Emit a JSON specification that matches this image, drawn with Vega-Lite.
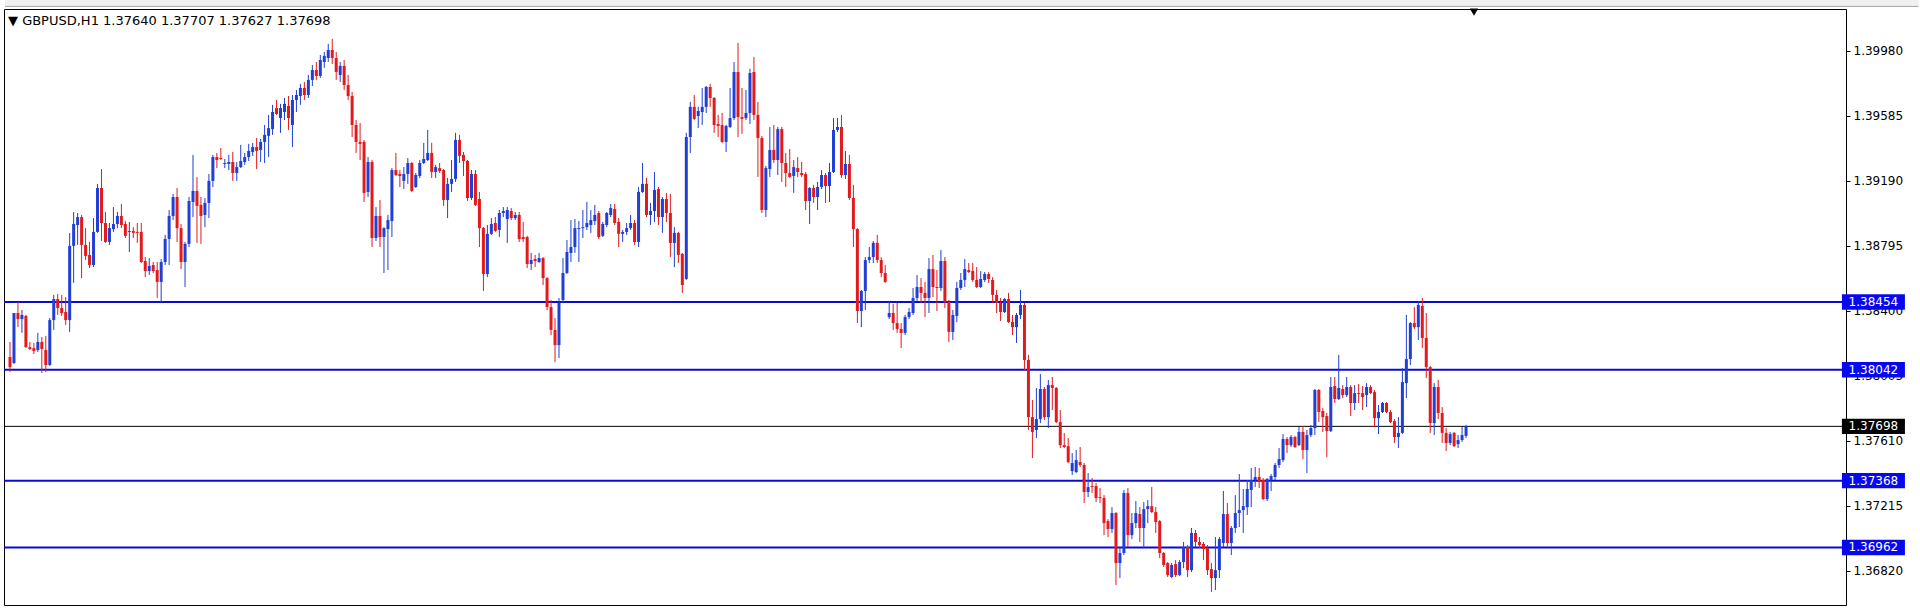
{
"$schema": "https://vega.github.io/schema/vega-lite/v6.json",
"width": 1842, "height": 596,
"autosize": {"type": "none"},
"padding": {"left": 4, "top": 9, "right": 74, "bottom": 3},
"background": "white",
"title": {"text": "▼ GBPUSD,H1  1.37640 1.37707 1.37627 1.37698", "anchor": "start", "frame": "group", "orient": "top", "offset": -38, "dx": 4, "baseline": "alphabetic", "font": "DejaVu Sans", "fontSize": 13, "fontWeight": "normal", "color": "#000000"},
"config": {"view": {"stroke": "#000000", "strokeWidth": 1}, "font": "DejaVu Sans"},
"datasets": {
"levels": [{"p": 1.38454}, {"p": 1.38042}, {"p": 1.37368}, {"p": 1.36962}],
"last": [{"p": 1.37698}],
"candles": [
{"i":0,"o":1.38119,"h":1.38211,"l":1.38028,"c":1.38058},
{"i":1,"o":1.38083,"h":1.38387,"l":1.38077,"c":1.38387},
{"i":2,"o":1.38387,"h":1.38454,"l":1.38301,"c":1.38350},
{"i":3,"o":1.38350,"h":1.38405,"l":1.38266,"c":1.38375},
{"i":4,"o":1.38369,"h":1.38375,"l":1.38174,"c":1.38180},
{"i":5,"o":1.38180,"h":1.38211,"l":1.38162,"c":1.38168},
{"i":6,"o":1.38174,"h":1.38205,"l":1.38138,"c":1.38156},
{"i":7,"o":1.38162,"h":1.38266,"l":1.38150,"c":1.38211},
{"i":8,"o":1.38211,"h":1.38241,"l":1.38022,"c":1.38168},
{"i":9,"o":1.38162,"h":1.38248,"l":1.38028,"c":1.38071},
{"i":10,"o":1.38071,"h":1.38356,"l":1.38065,"c":1.38344},
{"i":11,"o":1.38344,"h":1.38497,"l":1.38284,"c":1.38472},
{"i":12,"o":1.38472,"h":1.38503,"l":1.38375,"c":1.38417},
{"i":13,"o":1.38417,"h":1.38497,"l":1.38369,"c":1.38387},
{"i":14,"o":1.38393,"h":1.38484,"l":1.38314,"c":1.38344},
{"i":15,"o":1.38344,"h":1.38874,"l":1.38272,"c":1.38795},
{"i":16,"o":1.38795,"h":1.39001,"l":1.38570,"c":1.38928},
{"i":17,"o":1.38922,"h":1.38995,"l":1.38801,"c":1.38970},
{"i":18,"o":1.38970,"h":1.38983,"l":1.38599,"c":1.38801},
{"i":19,"o":1.38801,"h":1.38903,"l":1.38709,"c":1.38734},
{"i":20,"o":1.38740,"h":1.38819,"l":1.38660,"c":1.38679},
{"i":21,"o":1.38679,"h":1.38964,"l":1.38666,"c":1.38880},
{"i":22,"o":1.38880,"h":1.39172,"l":1.38874,"c":1.39147},
{"i":23,"o":1.39147,"h":1.39262,"l":1.38825,"c":1.38934},
{"i":24,"o":1.38934,"h":1.39001,"l":1.38813,"c":1.38819},
{"i":25,"o":1.38819,"h":1.38934,"l":1.38801,"c":1.38903},
{"i":26,"o":1.38897,"h":1.39031,"l":1.38880,"c":1.38928},
{"i":27,"o":1.38928,"h":1.39001,"l":1.38903,"c":1.38977},
{"i":28,"o":1.38977,"h":1.39050,"l":1.38903,"c":1.38922},
{"i":29,"o":1.38928,"h":1.38946,"l":1.38843,"c":1.38856},
{"i":30,"o":1.38880,"h":1.38940,"l":1.38758,"c":1.38886},
{"i":31,"o":1.38886,"h":1.38909,"l":1.38843,"c":1.38874},
{"i":32,"o":1.38880,"h":1.38934,"l":1.38813,"c":1.38874},
{"i":33,"o":1.38880,"h":1.38934,"l":1.38691,"c":1.38697},
{"i":34,"o":1.38703,"h":1.38727,"l":1.38605,"c":1.38642},
{"i":35,"o":1.38642,"h":1.38721,"l":1.38618,"c":1.38673},
{"i":36,"o":1.38679,"h":1.38697,"l":1.38630,"c":1.38642},
{"i":37,"o":1.38648,"h":1.38697,"l":1.38478,"c":1.38576},
{"i":38,"o":1.38576,"h":1.38715,"l":1.38448,"c":1.38697},
{"i":39,"o":1.38697,"h":1.38862,"l":1.38679,"c":1.38837},
{"i":40,"o":1.38837,"h":1.39013,"l":1.38679,"c":1.38977},
{"i":41,"o":1.38977,"h":1.39111,"l":1.38952,"c":1.39092},
{"i":42,"o":1.39092,"h":1.39147,"l":1.38819,"c":1.38903},
{"i":43,"o":1.38903,"h":1.38928,"l":1.38654,"c":1.38697},
{"i":44,"o":1.38697,"h":1.38819,"l":1.38545,"c":1.38807},
{"i":45,"o":1.38807,"h":1.39092,"l":1.38788,"c":1.39068},
{"i":46,"o":1.39062,"h":1.39348,"l":1.38970,"c":1.39129},
{"i":47,"o":1.39129,"h":1.39213,"l":1.38813,"c":1.39038},
{"i":48,"o":1.39044,"h":1.39092,"l":1.38807,"c":1.38977},
{"i":49,"o":1.38983,"h":1.39086,"l":1.38909,"c":1.39056},
{"i":50,"o":1.39056,"h":1.39232,"l":1.38964,"c":1.39190},
{"i":51,"o":1.39190,"h":1.39348,"l":1.39153,"c":1.39335},
{"i":52,"o":1.39335,"h":1.39360,"l":1.39268,"c":1.39317},
{"i":53,"o":1.39329,"h":1.39390,"l":1.39317,"c":1.39323},
{"i":54,"o":1.39293,"h":1.39323,"l":1.39268,"c":1.39299},
{"i":55,"o":1.39293,"h":1.39348,"l":1.39256,"c":1.39305},
{"i":56,"o":1.39305,"h":1.39366,"l":1.39190,"c":1.39238},
{"i":57,"o":1.39238,"h":1.39305,"l":1.39190,"c":1.39274},
{"i":58,"o":1.39274,"h":1.39409,"l":1.39268,"c":1.39311},
{"i":59,"o":1.39305,"h":1.39360,"l":1.39287,"c":1.39335},
{"i":60,"o":1.39335,"h":1.39415,"l":1.39311,"c":1.39372},
{"i":61,"o":1.39366,"h":1.39421,"l":1.39342,"c":1.39396},
{"i":62,"o":1.39396,"h":1.39451,"l":1.39262,"c":1.39372},
{"i":63,"o":1.39378,"h":1.39445,"l":1.39305,"c":1.39427},
{"i":64,"o":1.39427,"h":1.39530,"l":1.39299,"c":1.39470},
{"i":65,"o":1.39464,"h":1.39591,"l":1.39335,"c":1.39511},
{"i":66,"o":1.39505,"h":1.39652,"l":1.39470,"c":1.39609},
{"i":67,"o":1.39633,"h":1.39682,"l":1.39591,"c":1.39597},
{"i":68,"o":1.39572,"h":1.39658,"l":1.39482,"c":1.39633},
{"i":69,"o":1.39609,"h":1.39694,"l":1.39560,"c":1.39658},
{"i":70,"o":1.39646,"h":1.39706,"l":1.39500,"c":1.39572},
{"i":71,"o":1.39530,"h":1.39712,"l":1.39396,"c":1.39682},
{"i":72,"o":1.39682,"h":1.39743,"l":1.39609,"c":1.39712},
{"i":73,"o":1.39706,"h":1.39780,"l":1.39652,"c":1.39755},
{"i":74,"o":1.39755,"h":1.39792,"l":1.39682,"c":1.39712},
{"i":75,"o":1.39712,"h":1.39834,"l":1.39694,"c":1.39804},
{"i":76,"o":1.39804,"h":1.39895,"l":1.39767,"c":1.39864},
{"i":77,"o":1.39864,"h":1.39913,"l":1.39804,"c":1.39828},
{"i":78,"o":1.39828,"h":1.39956,"l":1.39816,"c":1.39925},
{"i":79,"o":1.39913,"h":1.39974,"l":1.39877,"c":1.39950},
{"i":80,"o":1.39937,"h":1.40023,"l":1.39913,"c":1.39986},
{"i":81,"o":1.39986,"h":1.40053,"l":1.39901,"c":1.39937},
{"i":82,"o":1.39937,"h":1.39974,"l":1.39804,"c":1.39852},
{"i":83,"o":1.39834,"h":1.39913,"l":1.39792,"c":1.39889},
{"i":84,"o":1.39889,"h":1.39925,"l":1.39743,"c":1.39773},
{"i":85,"o":1.39773,"h":1.39834,"l":1.39682,"c":1.39706},
{"i":86,"o":1.39706,"h":1.39731,"l":1.39457,"c":1.39530},
{"i":87,"o":1.39530,"h":1.39560,"l":1.39360,"c":1.39427},
{"i":88,"o":1.39427,"h":1.39542,"l":1.39317,"c":1.39415},
{"i":89,"o":1.39427,"h":1.39439,"l":1.39062,"c":1.39116},
{"i":90,"o":1.39123,"h":1.39335,"l":1.39092,"c":1.39305},
{"i":91,"o":1.39305,"h":1.39317,"l":1.38788,"c":1.38843},
{"i":92,"o":1.38843,"h":1.39031,"l":1.38825,"c":1.38977},
{"i":93,"o":1.38977,"h":1.39074,"l":1.38788,"c":1.38849},
{"i":94,"o":1.38849,"h":1.38909,"l":1.38630,"c":1.38903},
{"i":95,"o":1.38897,"h":1.38983,"l":1.38648,"c":1.38952},
{"i":96,"o":1.38946,"h":1.39268,"l":1.38849,"c":1.39256},
{"i":97,"o":1.39256,"h":1.39360,"l":1.39220,"c":1.39226},
{"i":98,"o":1.39232,"h":1.39256,"l":1.39153,"c":1.39220},
{"i":99,"o":1.39190,"h":1.39274,"l":1.39141,"c":1.39232},
{"i":100,"o":1.39232,"h":1.39329,"l":1.39172,"c":1.39299},
{"i":101,"o":1.39299,"h":1.39305,"l":1.39123,"c":1.39129},
{"i":102,"o":1.39153,"h":1.39238,"l":1.39147,"c":1.39226},
{"i":103,"o":1.39220,"h":1.39317,"l":1.39208,"c":1.39299},
{"i":104,"o":1.39299,"h":1.39421,"l":1.39293,"c":1.39323},
{"i":105,"o":1.39317,"h":1.39500,"l":1.39311,"c":1.39360},
{"i":106,"o":1.39360,"h":1.39421,"l":1.39208,"c":1.39244},
{"i":107,"o":1.39244,"h":1.39287,"l":1.39208,"c":1.39274},
{"i":108,"o":1.39268,"h":1.39299,"l":1.39238,"c":1.39250},
{"i":109,"o":1.39256,"h":1.39262,"l":1.39038,"c":1.39074},
{"i":110,"o":1.39074,"h":1.39208,"l":1.38964,"c":1.39172},
{"i":111,"o":1.39172,"h":1.39317,"l":1.39123,"c":1.39202},
{"i":112,"o":1.39202,"h":1.39482,"l":1.39184,"c":1.39439},
{"i":113,"o":1.39439,"h":1.39470,"l":1.39299,"c":1.39342},
{"i":114,"o":1.39348,"h":1.39366,"l":1.39220,"c":1.39311},
{"i":115,"o":1.39311,"h":1.39317,"l":1.39068,"c":1.39086},
{"i":116,"o":1.39086,"h":1.39256,"l":1.39074,"c":1.39232},
{"i":117,"o":1.39232,"h":1.39256,"l":1.39038,"c":1.39044},
{"i":118,"o":1.39080,"h":1.39123,"l":1.38788,"c":1.38903},
{"i":119,"o":1.38903,"h":1.38909,"l":1.38521,"c":1.38624},
{"i":120,"o":1.38624,"h":1.38922,"l":1.38605,"c":1.38868},
{"i":121,"o":1.38868,"h":1.38964,"l":1.38862,"c":1.38928},
{"i":122,"o":1.38934,"h":1.38970,"l":1.38880,"c":1.38886},
{"i":123,"o":1.38892,"h":1.39013,"l":1.38849,"c":1.38995},
{"i":124,"o":1.38995,"h":1.39031,"l":1.38970,"c":1.39007},
{"i":125,"o":1.38958,"h":1.39031,"l":1.38813,"c":1.39013},
{"i":126,"o":1.39007,"h":1.39025,"l":1.38952,"c":1.38964},
{"i":127,"o":1.38964,"h":1.39001,"l":1.38952,"c":1.38983},
{"i":128,"o":1.38983,"h":1.39001,"l":1.38819,"c":1.38837},
{"i":129,"o":1.38849,"h":1.38940,"l":1.38819,"c":1.38837},
{"i":130,"o":1.38849,"h":1.38856,"l":1.38660,"c":1.38685},
{"i":131,"o":1.38685,"h":1.38752,"l":1.38648,"c":1.38709},
{"i":132,"o":1.38715,"h":1.38740,"l":1.38666,"c":1.38703},
{"i":133,"o":1.38697,"h":1.38752,"l":1.38691,"c":1.38721},
{"i":134,"o":1.38721,"h":1.38727,"l":1.38557,"c":1.38599},
{"i":135,"o":1.38599,"h":1.38605,"l":1.38405,"c":1.38423},
{"i":136,"o":1.38423,"h":1.38466,"l":1.38253,"c":1.38284},
{"i":137,"o":1.38284,"h":1.38356,"l":1.38089,"c":1.38192},
{"i":138,"o":1.38192,"h":1.38478,"l":1.38113,"c":1.38448},
{"i":139,"o":1.38466,"h":1.38721,"l":1.38448,"c":1.38630},
{"i":140,"o":1.38630,"h":1.38831,"l":1.38624,"c":1.38758},
{"i":141,"o":1.38752,"h":1.38952,"l":1.38697,"c":1.38788},
{"i":142,"o":1.38788,"h":1.38958,"l":1.38752,"c":1.38903},
{"i":143,"o":1.38897,"h":1.38946,"l":1.38697,"c":1.38903},
{"i":144,"o":1.38903,"h":1.39013,"l":1.38843,"c":1.38909},
{"i":145,"o":1.38909,"h":1.39062,"l":1.38892,"c":1.38934},
{"i":146,"o":1.38922,"h":1.39013,"l":1.38874,"c":1.38952},
{"i":147,"o":1.38946,"h":1.39044,"l":1.38922,"c":1.38983},
{"i":148,"o":1.38995,"h":1.39007,"l":1.38837,"c":1.38849},
{"i":149,"o":1.38856,"h":1.38940,"l":1.38849,"c":1.38928},
{"i":150,"o":1.38922,"h":1.39001,"l":1.38909,"c":1.38995},
{"i":151,"o":1.38983,"h":1.39050,"l":1.38970,"c":1.39025},
{"i":152,"o":1.39019,"h":1.39050,"l":1.38922,"c":1.38934},
{"i":153,"o":1.38940,"h":1.38964,"l":1.38788,"c":1.38868},
{"i":154,"o":1.38868,"h":1.38892,"l":1.38819,"c":1.38880},
{"i":155,"o":1.38880,"h":1.38934,"l":1.38862,"c":1.38903},
{"i":156,"o":1.38903,"h":1.38983,"l":1.38892,"c":1.38934},
{"i":157,"o":1.38934,"h":1.38952,"l":1.38801,"c":1.38819},
{"i":158,"o":1.38819,"h":1.39153,"l":1.38788,"c":1.39123},
{"i":159,"o":1.39123,"h":1.39299,"l":1.39117,"c":1.39172},
{"i":160,"o":1.39172,"h":1.39208,"l":1.38970,"c":1.38983},
{"i":161,"o":1.38983,"h":1.39056,"l":1.38922,"c":1.39007},
{"i":162,"o":1.39007,"h":1.39244,"l":1.38940,"c":1.39135},
{"i":163,"o":1.39141,"h":1.39153,"l":1.38922,"c":1.38970},
{"i":164,"o":1.38970,"h":1.39092,"l":1.38874,"c":1.39080},
{"i":165,"o":1.39080,"h":1.39117,"l":1.38940,"c":1.38995},
{"i":166,"o":1.38995,"h":1.39111,"l":1.38727,"c":1.38813},
{"i":167,"o":1.38813,"h":1.38909,"l":1.38666,"c":1.38874},
{"i":168,"o":1.38874,"h":1.38880,"l":1.38691,"c":1.38740},
{"i":169,"o":1.38746,"h":1.38752,"l":1.38509,"c":1.38557},
{"i":170,"o":1.38594,"h":1.39482,"l":1.38588,"c":1.39457},
{"i":171,"o":1.39457,"h":1.39670,"l":1.39360,"c":1.39640},
{"i":172,"o":1.39640,"h":1.39712,"l":1.39560,"c":1.39567},
{"i":173,"o":1.39585,"h":1.39640,"l":1.39511,"c":1.39615},
{"i":174,"o":1.39609,"h":1.39755,"l":1.39530,"c":1.39640},
{"i":175,"o":1.39640,"h":1.39767,"l":1.39603,"c":1.39761},
{"i":176,"o":1.39761,"h":1.39780,"l":1.39640,"c":1.39694},
{"i":177,"o":1.39694,"h":1.39700,"l":1.39482,"c":1.39530},
{"i":178,"o":1.39536,"h":1.39591,"l":1.39457,"c":1.39524},
{"i":179,"o":1.39530,"h":1.39603,"l":1.39421,"c":1.39427},
{"i":180,"o":1.39427,"h":1.39530,"l":1.39366,"c":1.39524},
{"i":181,"o":1.39518,"h":1.39755,"l":1.39511,"c":1.39572},
{"i":182,"o":1.39572,"h":1.39913,"l":1.39560,"c":1.39852},
{"i":183,"o":1.39852,"h":1.40029,"l":1.39457,"c":1.39578},
{"i":184,"o":1.39578,"h":1.39755,"l":1.39476,"c":1.39567},
{"i":185,"o":1.39572,"h":1.39743,"l":1.39560,"c":1.39603},
{"i":186,"o":1.39603,"h":1.39871,"l":1.39536,"c":1.39846},
{"i":187,"o":1.39852,"h":1.39944,"l":1.39560,"c":1.39591},
{"i":188,"o":1.39591,"h":1.39670,"l":1.39214,"c":1.39451},
{"i":189,"o":1.39451,"h":1.39464,"l":1.38995,"c":1.39013},
{"i":190,"o":1.39013,"h":1.39281,"l":1.38970,"c":1.39268},
{"i":191,"o":1.39262,"h":1.39518,"l":1.39214,"c":1.39378},
{"i":192,"o":1.39378,"h":1.39530,"l":1.39299,"c":1.39317},
{"i":193,"o":1.39317,"h":1.39518,"l":1.39226,"c":1.39505},
{"i":194,"o":1.39505,"h":1.39518,"l":1.39184,"c":1.39299},
{"i":195,"o":1.39299,"h":1.39360,"l":1.39153,"c":1.39238},
{"i":196,"o":1.39238,"h":1.39384,"l":1.39208,"c":1.39214},
{"i":197,"o":1.39220,"h":1.39317,"l":1.39117,"c":1.39274},
{"i":198,"o":1.39268,"h":1.39335,"l":1.39214,"c":1.39244},
{"i":199,"o":1.39238,"h":1.39305,"l":1.39214,"c":1.39226},
{"i":200,"o":1.39232,"h":1.39244,"l":1.39013,"c":1.39068},
{"i":201,"o":1.39068,"h":1.39153,"l":1.38928,"c":1.39147},
{"i":202,"o":1.39147,"h":1.39166,"l":1.39056,"c":1.39092},
{"i":203,"o":1.39092,"h":1.39184,"l":1.39013,"c":1.39153},
{"i":204,"o":1.39153,"h":1.39256,"l":1.39141,"c":1.39226},
{"i":205,"o":1.39226,"h":1.39238,"l":1.39056,"c":1.39159},
{"i":206,"o":1.39159,"h":1.39299,"l":1.39062,"c":1.39244},
{"i":207,"o":1.39244,"h":1.39572,"l":1.39238,"c":1.39500},
{"i":208,"o":1.39500,"h":1.39572,"l":1.39488,"c":1.39518},
{"i":209,"o":1.39518,"h":1.39591,"l":1.39208,"c":1.39226},
{"i":210,"o":1.39226,"h":1.39372,"l":1.39202,"c":1.39293},
{"i":211,"o":1.39293,"h":1.39348,"l":1.39074,"c":1.39086},
{"i":212,"o":1.39086,"h":1.39166,"l":1.38788,"c":1.38897},
{"i":213,"o":1.38897,"h":1.38903,"l":1.38326,"c":1.38399},
{"i":214,"o":1.38399,"h":1.38527,"l":1.38301,"c":1.38521},
{"i":215,"o":1.38521,"h":1.38727,"l":1.38405,"c":1.38709},
{"i":216,"o":1.38709,"h":1.38788,"l":1.38691,"c":1.38727},
{"i":217,"o":1.38727,"h":1.38825,"l":1.38691,"c":1.38813},
{"i":218,"o":1.38813,"h":1.38862,"l":1.38691,"c":1.38709},
{"i":219,"o":1.38709,"h":1.38727,"l":1.38605,"c":1.38630},
{"i":220,"o":1.38630,"h":1.38679,"l":1.38570,"c":1.38576},
{"i":221,"o":1.38362,"h":1.38460,"l":1.38350,"c":1.38387},
{"i":222,"o":1.38387,"h":1.38442,"l":1.38284,"c":1.38326},
{"i":223,"o":1.38326,"h":1.38448,"l":1.38266,"c":1.38290},
{"i":224,"o":1.38290,"h":1.38326,"l":1.38174,"c":1.38266},
{"i":225,"o":1.38266,"h":1.38375,"l":1.38253,"c":1.38362},
{"i":226,"o":1.38362,"h":1.38417,"l":1.38350,"c":1.38393},
{"i":227,"o":1.38387,"h":1.38539,"l":1.38375,"c":1.38478},
{"i":228,"o":1.38478,"h":1.38618,"l":1.38460,"c":1.38545},
{"i":229,"o":1.38545,"h":1.38599,"l":1.38448,"c":1.38509},
{"i":230,"o":1.38509,"h":1.38576,"l":1.38362,"c":1.38478},
{"i":231,"o":1.38478,"h":1.38721,"l":1.38387,"c":1.38654},
{"i":232,"o":1.38654,"h":1.38740,"l":1.38484,"c":1.38545},
{"i":233,"o":1.38545,"h":1.38648,"l":1.38399,"c":1.38539},
{"i":234,"o":1.38539,"h":1.38770,"l":1.38521,"c":1.38703},
{"i":235,"o":1.38703,"h":1.38727,"l":1.38417,"c":1.38454},
{"i":236,"o":1.38454,"h":1.38466,"l":1.38211,"c":1.38272},
{"i":237,"o":1.38272,"h":1.38405,"l":1.38223,"c":1.38375},
{"i":238,"o":1.38369,"h":1.38576,"l":1.38332,"c":1.38539},
{"i":239,"o":1.38539,"h":1.38630,"l":1.38527,"c":1.38588},
{"i":240,"o":1.38588,"h":1.38715,"l":1.38545,"c":1.38654},
{"i":241,"o":1.38648,"h":1.38691,"l":1.38630,"c":1.38636},
{"i":242,"o":1.38642,"h":1.38691,"l":1.38576,"c":1.38588},
{"i":243,"o":1.38588,"h":1.38666,"l":1.38539,"c":1.38545},
{"i":244,"o":1.38545,"h":1.38642,"l":1.38539,"c":1.38594},
{"i":245,"o":1.38588,"h":1.38636,"l":1.38576,"c":1.38624},
{"i":246,"o":1.38624,"h":1.38636,"l":1.38570,"c":1.38594},
{"i":247,"o":1.38588,"h":1.38605,"l":1.38448,"c":1.38497},
{"i":248,"o":1.38497,"h":1.38527,"l":1.38387,"c":1.38448},
{"i":249,"o":1.38448,"h":1.38478,"l":1.38338,"c":1.38393},
{"i":250,"o":1.38393,"h":1.38478,"l":1.38387,"c":1.38472},
{"i":251,"o":1.38472,"h":1.38509,"l":1.38326,"c":1.38332},
{"i":252,"o":1.38332,"h":1.38375,"l":1.38253,"c":1.38301},
{"i":253,"o":1.38301,"h":1.38387,"l":1.38205,"c":1.38375},
{"i":254,"o":1.38375,"h":1.38527,"l":1.38350,"c":1.38436},
{"i":255,"o":1.38436,"h":1.38448,"l":1.38040,"c":1.38101},
{"i":256,"o":1.38101,"h":1.38132,"l":1.37676,"c":1.37754},
{"i":257,"o":1.37754,"h":1.37858,"l":1.37505,"c":1.37664},
{"i":258,"o":1.37676,"h":1.37931,"l":1.37627,"c":1.37742},
{"i":259,"o":1.37742,"h":1.38016,"l":1.37718,"c":1.37925},
{"i":260,"o":1.37925,"h":1.37937,"l":1.37736,"c":1.37754},
{"i":261,"o":1.37754,"h":1.37980,"l":1.37688,"c":1.37949},
{"i":262,"o":1.37949,"h":1.37998,"l":1.37797,"c":1.37931},
{"i":263,"o":1.37931,"h":1.37937,"l":1.37718,"c":1.37724},
{"i":264,"o":1.37724,"h":1.37797,"l":1.37566,"c":1.37584},
{"i":265,"o":1.37584,"h":1.37658,"l":1.37566,"c":1.37572},
{"i":266,"o":1.37578,"h":1.37627,"l":1.37475,"c":1.37481},
{"i":267,"o":1.37426,"h":1.37536,"l":1.37402,"c":1.37475},
{"i":268,"o":1.37420,"h":1.37554,"l":1.37414,"c":1.37493},
{"i":269,"o":1.37481,"h":1.37572,"l":1.37451,"c":1.37463},
{"i":270,"o":1.37463,"h":1.37475,"l":1.37232,"c":1.37299},
{"i":271,"o":1.37299,"h":1.37414,"l":1.37268,"c":1.37329},
{"i":272,"o":1.37335,"h":1.37384,"l":1.37293,"c":1.37329},
{"i":273,"o":1.37335,"h":1.37353,"l":1.37238,"c":1.37262},
{"i":274,"o":1.37268,"h":1.37323,"l":1.37232,"c":1.37262},
{"i":275,"o":1.37262,"h":1.37280,"l":1.37037,"c":1.37110},
{"i":276,"o":1.37122,"h":1.37134,"l":1.37025,"c":1.37074},
{"i":277,"o":1.37074,"h":1.37207,"l":1.37050,"c":1.37171},
{"i":278,"o":1.37171,"h":1.37177,"l":1.36733,"c":1.36867},
{"i":279,"o":1.36867,"h":1.36964,"l":1.36776,"c":1.36928},
{"i":280,"o":1.36928,"h":1.37311,"l":1.36916,"c":1.37293},
{"i":281,"o":1.37293,"h":1.37323,"l":1.36964,"c":1.37037},
{"i":282,"o":1.37037,"h":1.37171,"l":1.37013,"c":1.37110},
{"i":283,"o":1.37110,"h":1.37244,"l":1.37080,"c":1.37171},
{"i":284,"o":1.37165,"h":1.37207,"l":1.36995,"c":1.37080},
{"i":285,"o":1.37080,"h":1.37238,"l":1.36958,"c":1.37195},
{"i":286,"o":1.37195,"h":1.37250,"l":1.37110,"c":1.37213},
{"i":287,"o":1.37213,"h":1.37329,"l":1.37171,"c":1.37177},
{"i":288,"o":1.37177,"h":1.37207,"l":1.37050,"c":1.37116},
{"i":289,"o":1.37122,"h":1.37128,"l":1.36897,"c":1.36928},
{"i":290,"o":1.36928,"h":1.36934,"l":1.36843,"c":1.36855},
{"i":291,"o":1.36867,"h":1.36873,"l":1.36782,"c":1.36794},
{"i":292,"o":1.36782,"h":1.36867,"l":1.36776,"c":1.36855},
{"i":293,"o":1.36861,"h":1.36885,"l":1.36782,"c":1.36794},
{"i":294,"o":1.36794,"h":1.36885,"l":1.36788,"c":1.36873},
{"i":295,"o":1.36873,"h":1.36995,"l":1.36836,"c":1.36964},
{"i":296,"o":1.36964,"h":1.36977,"l":1.36782,"c":1.36824},
{"i":297,"o":1.36824,"h":1.37080,"l":1.36812,"c":1.37050},
{"i":298,"o":1.37050,"h":1.37068,"l":1.36964,"c":1.36995},
{"i":299,"o":1.36995,"h":1.37025,"l":1.36958,"c":1.36977},
{"i":300,"o":1.36983,"h":1.36995,"l":1.36885,"c":1.36952},
{"i":301,"o":1.36958,"h":1.36977,"l":1.36794,"c":1.36824},
{"i":302,"o":1.36830,"h":1.36867,"l":1.36691,"c":1.36776},
{"i":303,"o":1.36776,"h":1.37025,"l":1.36703,"c":1.36824},
{"i":304,"o":1.36824,"h":1.37025,"l":1.36776,"c":1.37013},
{"i":305,"o":1.36989,"h":1.37305,"l":1.36964,"c":1.37165},
{"i":306,"o":1.37165,"h":1.37232,"l":1.36964,"c":1.36989},
{"i":307,"o":1.36989,"h":1.37092,"l":1.36916,"c":1.37080},
{"i":308,"o":1.37080,"h":1.37280,"l":1.37050,"c":1.37171},
{"i":309,"o":1.37171,"h":1.37408,"l":1.37086,"c":1.37189},
{"i":310,"o":1.37189,"h":1.37317,"l":1.37050,"c":1.37213},
{"i":311,"o":1.37207,"h":1.37372,"l":1.37159,"c":1.37317},
{"i":312,"o":1.37311,"h":1.37445,"l":1.37207,"c":1.37372},
{"i":313,"o":1.37372,"h":1.37451,"l":1.37329,"c":1.37390},
{"i":314,"o":1.37390,"h":1.37445,"l":1.37323,"c":1.37360},
{"i":315,"o":1.37372,"h":1.37384,"l":1.37250,"c":1.37256},
{"i":316,"o":1.37256,"h":1.37384,"l":1.37244,"c":1.37378},
{"i":317,"o":1.37372,"h":1.37408,"l":1.37305,"c":1.37396},
{"i":318,"o":1.37390,"h":1.37475,"l":1.37372,"c":1.37463},
{"i":319,"o":1.37463,"h":1.37566,"l":1.37445,"c":1.37499},
{"i":320,"o":1.37493,"h":1.37651,"l":1.37481,"c":1.37621},
{"i":321,"o":1.37621,"h":1.37633,"l":1.37536,"c":1.37584},
{"i":322,"o":1.37584,"h":1.37645,"l":1.37572,"c":1.37633},
{"i":323,"o":1.37633,"h":1.37639,"l":1.37566,"c":1.37572},
{"i":324,"o":1.37584,"h":1.37694,"l":1.37578,"c":1.37664},
{"i":325,"o":1.37664,"h":1.37700,"l":1.37499,"c":1.37554},
{"i":326,"o":1.37554,"h":1.37676,"l":1.37414,"c":1.37645},
{"i":327,"o":1.37645,"h":1.37706,"l":1.37633,"c":1.37688},
{"i":328,"o":1.37688,"h":1.37925,"l":1.37645,"c":1.37919},
{"i":329,"o":1.37919,"h":1.37925,"l":1.37724,"c":1.37785},
{"i":330,"o":1.37791,"h":1.37809,"l":1.37664,"c":1.37754},
{"i":331,"o":1.37760,"h":1.37779,"l":1.37511,"c":1.37669},
{"i":332,"o":1.37669,"h":1.37998,"l":1.37664,"c":1.37937},
{"i":333,"o":1.37943,"h":1.37998,"l":1.37840,"c":1.37864},
{"i":334,"o":1.37864,"h":1.38132,"l":1.37858,"c":1.37931},
{"i":335,"o":1.37925,"h":1.37949,"l":1.37870,"c":1.37888},
{"i":336,"o":1.37888,"h":1.37998,"l":1.37876,"c":1.37937},
{"i":337,"o":1.37937,"h":1.37949,"l":1.37761,"c":1.37840},
{"i":338,"o":1.37840,"h":1.37949,"l":1.37797,"c":1.37900},
{"i":339,"o":1.37900,"h":1.37955,"l":1.37840,"c":1.37894},
{"i":340,"o":1.37900,"h":1.37943,"l":1.37797,"c":1.37876},
{"i":341,"o":1.37888,"h":1.37961,"l":1.37815,"c":1.37937},
{"i":342,"o":1.37937,"h":1.37949,"l":1.37894,"c":1.37900},
{"i":343,"o":1.37906,"h":1.37919,"l":1.37694,"c":1.37748},
{"i":344,"o":1.37748,"h":1.37828,"l":1.37651,"c":1.37785},
{"i":345,"o":1.37785,"h":1.37846,"l":1.37779,"c":1.37840},
{"i":346,"o":1.37840,"h":1.37846,"l":1.37779,"c":1.37785},
{"i":347,"o":1.37785,"h":1.37797,"l":1.37718,"c":1.37724},
{"i":348,"o":1.37730,"h":1.37742,"l":1.37597,"c":1.37633},
{"i":349,"o":1.37633,"h":1.37754,"l":1.37566,"c":1.37658},
{"i":350,"o":1.37658,"h":1.38052,"l":1.37651,"c":1.37967},
{"i":351,"o":1.37961,"h":1.38375,"l":1.37870,"c":1.38107},
{"i":352,"o":1.38107,"h":1.38332,"l":1.38071,"c":1.38326},
{"i":353,"o":1.38326,"h":1.38423,"l":1.38290,"c":1.38301},
{"i":354,"o":1.38301,"h":1.38460,"l":1.38223,"c":1.38436},
{"i":355,"o":1.38430,"h":1.38478,"l":1.38174,"c":1.38235},
{"i":356,"o":1.38235,"h":1.38387,"l":1.37992,"c":1.38058},
{"i":357,"o":1.38058,"h":1.38065,"l":1.37658,"c":1.37718},
{"i":358,"o":1.37718,"h":1.37961,"l":1.37645,"c":1.37937},
{"i":359,"o":1.37937,"h":1.37980,"l":1.37742,"c":1.37779},
{"i":360,"o":1.37779,"h":1.37815,"l":1.37597,"c":1.37658},
{"i":361,"o":1.37658,"h":1.37688,"l":1.37548,"c":1.37597},
{"i":362,"o":1.37597,"h":1.37664,"l":1.37584,"c":1.37651},
{"i":363,"o":1.37658,"h":1.37664,"l":1.37572,"c":1.37578},
{"i":364,"o":1.37590,"h":1.37645,"l":1.37566,"c":1.37615},
{"i":365,"o":1.37615,"h":1.37694,"l":1.37603,"c":1.37645},
{"i":366,"o":1.37640,"h":1.37707,"l":1.37627,"c":1.37698}
]
},
"layer": [
{
"data": {"values": [{}]},
"mark": {"type": "rect", "color": "#f0f0f0", "clip": false},
"encoding": {
"x": {"datum": -1.25, "type": "quantitative", "scale": {"domain": [-0.25, 460.25], "nice": false, "zero": false}, "axis": null},
"x2": {"datum": 479.75},
"y": {"datum": 1.4029, "type": "quantitative", "scale": {"domain": [1.36612, 1.40235], "nice": false, "zero": false}, "axis": {"orient": "right", "values": [1.3998, 1.39585, 1.3919, 1.38795, 1.384, 1.38005, 1.3761, 1.37215, 1.3682], "format": ".5f", "title": null, "grid": false, "domain": false, "ticks": true, "tickSize": 4, "tickColor": "#000000", "labelColor": "#000000", "labelFont": "DejaVu Sans", "labelFontSize": 12, "labelPadding": 3, "labelFlush": false, "labelOverlap": false}},
"y2": {"datum": 1.40254}
}
},
{
"data": {"values": [{}]},
"mark": {"type": "rule", "color": "#a0a0a0", "strokeWidth": 1, "clip": false},
"encoding": {
"x": {"datum": -1.25, "type": "quantitative"},
"x2": {"datum": 479.75},
"y": {"datum": 1.40251, "type": "quantitative"}
}
},
{
"data": {"name": "levels"},
"mark": {"type": "rule", "color": "#0a0ad2", "strokeWidth": 2},
"encoding": {"y": {"field": "p", "type": "quantitative"}}
},
{
"data": {"name": "last"},
"mark": {"type": "rule", "color": "#000000", "strokeWidth": 1},
"encoding": {"y": {"field": "p", "type": "quantitative"}}
},
{
"data": {"name": "candles"},
"mark": {"type": "rule", "strokeWidth": 1},
"encoding": {
"x": {"field": "i", "type": "quantitative"},
"y": {"field": "l", "type": "quantitative"},
"y2": {"field": "h"},
"color": {"condition": {"test": "datum.c >= datum.o", "value": "#1f3fd6"}, "value": "#e31a1c"}
}
},
{
"data": {"name": "candles"},
"mark": {"type": "bar", "size": 3},
"encoding": {
"x": {"field": "i", "type": "quantitative"},
"y": {"field": "o", "type": "quantitative"},
"y2": {"field": "c"},
"color": {"condition": {"test": "datum.c >= datum.o", "value": "#1f3fd6"}, "value": "#e31a1c"}
}
},
{
"data": {"name": "levels"},
"mark": {"type": "point", "shape": "M-1,-0.245H1V0.245H-1Z", "size": 3969, "filled": true, "opacity": 1, "color": "#0808ee", "clip": false},
"encoding": {
"x": {"datum": 468.4, "type": "quantitative"},
"y": {"field": "p", "type": "quantitative"}
}
},
{
"data": {"name": "last"},
"mark": {"type": "point", "shape": "M-1,-0.245H1V0.245H-1Z", "size": 3969, "filled": true, "opacity": 1, "color": "#000000", "clip": false},
"encoding": {
"x": {"datum": 468.4, "type": "quantitative"},
"y": {"field": "p", "type": "quantitative"}
}
},
{
"data": {"name": "levels"},
"mark": {"type": "text", "color": "#ffffff", "font": "DejaVu Sans", "fontSize": 12, "align": "center", "baseline": "middle", "clip": false},
"encoding": {
"x": {"datum": 468.4, "type": "quantitative"},
"y": {"field": "p", "type": "quantitative"},
"text": {"field": "p", "type": "quantitative", "format": ".5f"}
}
},
{
"data": {"name": "last"},
"mark": {"type": "text", "color": "#ffffff", "font": "DejaVu Sans", "fontSize": 12, "align": "center", "baseline": "middle", "clip": false},
"encoding": {
"x": {"datum": 468.4, "type": "quantitative"},
"y": {"field": "p", "type": "quantitative"},
"text": {"field": "p", "type": "quantitative", "format": ".5f"}
}
},
{
"data": {"values": [{}]},
"mark": {"type": "point", "shape": "triangle-down", "size": 70, "filled": true, "opacity": 1, "color": "#000000", "clip": false},
"encoding": {
"x": {"datum": 368.0, "type": "quantitative"},
"y": {"datum": 1.40216, "type": "quantitative"}
}
}
]
}
